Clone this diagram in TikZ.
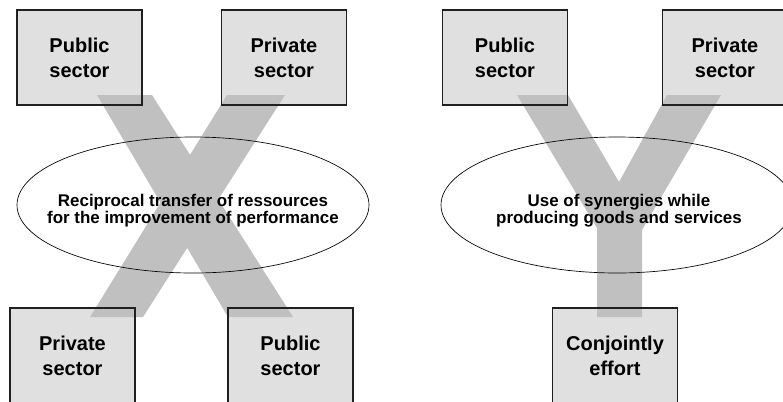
\documentclass[tikz,border=0pt]{standalone}
\usepackage{fontspec}
\setmainfont{Liberation Sans}
\usetikzlibrary{shapes.geometric}
\pgfdeclarelayer{background}
\pgfdeclarelayer{foreground}
\pgfsetlayers{background,main,foreground}
\definecolor{boxgray}{HTML}{E0E0E0}
\definecolor{bandgray}{HTML}{C0C0C0}
\definecolor{edgegray}{HTML}{202020}
\tikzset{
  sectorbox/.style={draw=edgegray, line width=0.85pt, minimum width=93.75pt,
    minimum height=71.25pt, inner sep=0pt, outer sep=0pt, align=center,
    font=\fontsize{15}{18.75}\selectfont\bfseries},
  oval/.style={ellipse, draw=black, line width=0.5pt, minimum width=264pt,
    minimum height=102pt, inner sep=0pt},
  ovaltext/.style={align=center, inner sep=0pt,
    font=\fontsize{12.7}{12.75}\selectfont\bfseries},
  band/.style={fill=bandgray},
  boxfill/.style={fill=boxgray}
}
\begin{document}
\begin{tikzpicture}[x=0.75pt,y=-0.75pt]
\useasboundingbox (0,0) rectangle (783,401);
\begin{pgfonlayer}{foreground}
  % left diagram
  \node[sectorbox] (lpub) at (79.5,57.5) {Public\\sector};
  \node[sectorbox] (lpriv) at (284,57.5) {Private\\sector};
  \node[sectorbox] (lpriv2) at (72.5,355.5) {Private\\sector};
  \node[sectorbox] (lpub2) at (290.5,355.5) {Public\\sector};
  \node[oval] (lov) at (193,205) {};
  \node[ovaltext] (lovt) at (193,210.5) {Reciprocal transfer of ressources\\for the improvement of performance};
  % right diagram
  \node[sectorbox] (rpub) at (505,57.5) {Public\\sector};
  \node[sectorbox] (rpriv) at (725,57.5) {Private\\sector};
  \node[sectorbox] (rjoint) at (615,355.5) {Conjointly\\effort};
  \node[oval] (rov) at (617,205) {};
  \node[ovaltext] (rovt) at (619,210.5) {Use of synergies while\\producing goods and services};
\end{pgfonlayer}
\begin{pgfonlayer}{background}
  \fill[white] (0,0) rectangle (783,401);
  \foreach \b in {lpub,lpriv,lpriv2,lpub2,rpub,rpriv,rjoint}
    \fill[boxfill] (\b.south west) rectangle (\b.north east);
\end{pgfonlayer}
% X band
\fill[band] (97,95) -- (152,95) -- (293,317) -- (228,317) -- cycle;
\fill[band] (227,95) -- (285,95) -- (143,317) -- (90,317) -- cycle;
% Y band
\fill[band] (517,95) -- (568,95) -- (619,182) -- (667,95) -- (721,95)
  -- (642,230) -- (642,317) -- (597,317) -- (597,228) -- cycle;
\end{tikzpicture}
\end{document}
